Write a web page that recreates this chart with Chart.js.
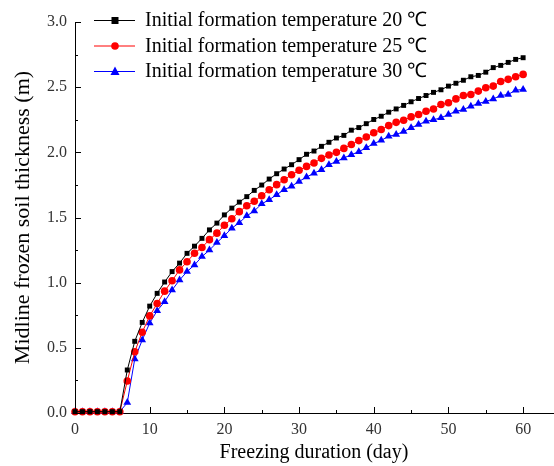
<!DOCTYPE html>
<html>
<head>
<meta charset="utf-8">
<script src="https://cdn.jsdelivr.net/npm/chart.js@4.4.1/dist/chart.umd.min.js"></script>
<style>
html,body{margin:0;padding:0;background:#fff;}
#wrap{width:554px;height:466px;}
</style>
</head>
<body>
<div id="wrap"><canvas id="c" width="554" height="466"></canvas></div>
<script>
const days = [0,1,2,3,4,5,6,7,8,9,10,11,12,13,14,15,16,17,18,19,20,21,22,23,24,25,26,27,28,29,30,31,32,33,34,35,36,37,38,39,40,41,42,43,44,45,46,47,48,49,50,51,52,53,54,55,56,57,58,59,60];
const temp20 = [0.01,0.01,0.01,0.01,0.01,0.01,0.01,0.33,0.55,0.695,0.82,0.918,1.005,1.085,1.15,1.225,1.28,1.34,1.405,1.457,1.52,1.572,1.618,1.66,1.708,1.749,1.795,1.836,1.872,1.905,1.944,1.985,2.01,2.046,2.077,2.11,2.13,2.17,2.19,2.22,2.252,2.277,2.308,2.333,2.36,2.388,2.413,2.436,2.46,2.48,2.508,2.53,2.553,2.58,2.59,2.615,2.65,2.667,2.69,2.713,2.726];
const temp25 = [0.01,0.01,0.01,0.01,0.01,0.01,0.01,0.245,0.47,0.62,0.745,0.84,0.935,1.015,1.098,1.16,1.226,1.27,1.33,1.38,1.44,1.49,1.545,1.59,1.625,1.667,1.713,1.752,1.79,1.828,1.862,1.892,1.918,1.954,1.98,2.0,2.03,2.06,2.09,2.118,2.15,2.175,2.205,2.23,2.246,2.272,2.29,2.315,2.333,2.367,2.38,2.41,2.436,2.444,2.47,2.495,2.508,2.544,2.56,2.58,2.598];
const temp30 = [0.01,0.01,0.01,0.01,0.01,0.01,0.01,0.08,0.415,0.56,0.69,0.785,0.854,0.944,1.02,1.085,1.136,1.2,1.25,1.308,1.36,1.418,1.46,1.513,1.55,1.605,1.636,1.675,1.713,1.74,1.777,1.81,1.84,1.867,1.905,1.93,1.957,1.982,2.005,2.035,2.067,2.092,2.123,2.136,2.16,2.188,2.213,2.238,2.25,2.265,2.29,2.315,2.328,2.354,2.375,2.39,2.41,2.436,2.444,2.477,2.482];
const seriesNames = ['Initial formation temperature 20 ℃','Initial formation temperature 25 ℃','Initial formation temperature 30 ℃'];
const xTickValues = [0,10,20,30,40,50,60];
const yTickValues = [0,0.5,1.0,1.5,2.0,2.5,3.0];

const SERIF = "'Liberation Serif', 'Times New Roman', serif";
const colors = ['#000000','#ff0000','#0000ff'];
const styles = ['rect','circle','triangle'];
const radii = [3.5,3.8,4.5];
const allSeries = [temp20, temp25, temp30];

const datasets = allSeries.map((vals, i) => ({
  label: seriesNames[i],
  data: days.map((d, k) => ({x: d, y: vals[k]})),
  borderColor: colors[i],
  backgroundColor: colors[i],
  borderWidth: 1,
  pointStyle: styles[i],
  pointRadius: radii[i],
  pointBorderWidth: 0,
  pointHoverRadius: radii[i],
  tension: 0,
  clip: false
}));

function drawMarker(ctx, style, x, y, r, color) {
  ctx.save();
  ctx.fillStyle = color;
  ctx.beginPath();
  if (style === 'rect') {
    ctx.rect(x - r, y - r, 2 * r, 2 * r);
  } else if (style === 'circle') {
    ctx.arc(x, y, r, 0, Math.PI * 2);
  } else {
    ctx.moveTo(x, y - r * 1.1);
    ctx.lineTo(x + r * 1.0, y + r * 0.75);
    ctx.lineTo(x - r * 1.0, y + r * 0.75);
    ctx.closePath();
  }
  ctx.fill();
  ctx.restore();
}

const tickPlugin = {
  id: 'innerTicks',
  afterDraw(chart) {
    const ctx = chart.ctx;
    const xs = chart.scales.x, ys = chart.scales.y;
    const area = chart.chartArea;
    ctx.save();
    ctx.strokeStyle = '#000';
    ctx.lineWidth = 1;
    ctx.beginPath();
    for (let v = 0; v <= 60; v += 5) {
      const px = Math.round(xs.getPixelForValue(v)) + 0.5;
      const len = (v % 10 === 0) ? 6 : 3;
      ctx.moveTo(px, area.bottom);
      ctx.lineTo(px, area.bottom - len);
    }
    for (let v = 0; v <= 3.0001; v += 0.25) {
      const py = Math.round(ys.getPixelForValue(v)) + 0.5;
      const len = (Math.abs(v * 2 - Math.round(v * 2)) < 1e-6) ? 6 : 3;
      ctx.moveTo(area.left, py);
      ctx.lineTo(area.left + len, py);
    }
    ctx.stroke();
    ctx.restore();
  }
};

const legendPlugin = {
  id: 'lineLegend',
  afterDraw(chart) {
    const ctx = chart.ctx;
    ctx.save();
    ctx.font = '20px ' + SERIF;
    ctx.textBaseline = 'middle';
    ctx.textAlign = 'left';
    chart.data.datasets.forEach((ds, i) => {
      const y = 20 + i * 25.5;
      ctx.strokeStyle = ds.borderColor;
      ctx.lineWidth = 1;
      ctx.beginPath();
      ctx.moveTo(94, y + 0.5);
      ctx.lineTo(135, y + 0.5);
      ctx.stroke();
      drawMarker(ctx, ds.pointStyle, 115, y + 0.5, ds.pointRadius, ds.borderColor);
      ctx.fillStyle = '#000';
      ctx.fillText(ds.label, 145, y + 1);
    });
    ctx.restore();
  }
};

new Chart(document.getElementById('c'), {
  type: 'line',
  data: { datasets },
  options: {
    responsive: false,
    animation: false,
    layout: { autoPadding: false, padding: { top: 22, right: 1, left: 0, bottom: 0 } },
    plugins: { legend: { display: false }, tooltip: { enabled: false } },
    elements: { line: { borderJoinStyle: 'miter' } },
    scales: {
      x: {
        type: 'linear',
        min: 0, max: 64,
        afterBuildTicks(scale) { scale.ticks = xTickValues.map(v => ({value: v})); },
        afterFit(scale) { scale.height = 53; scale.paddingRight = 0; scale.paddingLeft = 0; },
        grid: { display: false, drawTicks: false },
        border: { display: true, color: '#000', width: 1 },
        ticks: { color: '#333', padding: 7, font: { family: SERIF, size: 16 }, maxRotation: 0, callback: v => String(v) },
        title: { display: true, text: 'Freezing duration (day)', color: '#000', font: { family: SERIF, size: 20 }, padding: { top: 0, bottom: 1 } }
      },
      y: {
        type: 'linear',
        min: 0, max: 3,
        afterBuildTicks(scale) { scale.ticks = yTickValues.map(v => ({value: v})); },
        afterFit(scale) { scale.width = 75; scale.paddingTop = 0; scale.paddingBottom = 0; },
        grid: { display: false, drawTicks: false },
        border: { display: true, color: '#000', width: 1 },
        ticks: { color: '#333', padding: 8, font: { family: SERIF, size: 16 }, callback: v => Number(v).toFixed(1) },
        title: { display: true, text: 'Midline frozen soil thickness (m)', color: '#000', font: { family: SERIF, size: 22 }, padding: { top: 10, bottom: 4 } }
      }
    }
  },
  plugins: [tickPlugin, legendPlugin]
});
</script>
</body>
</html>
